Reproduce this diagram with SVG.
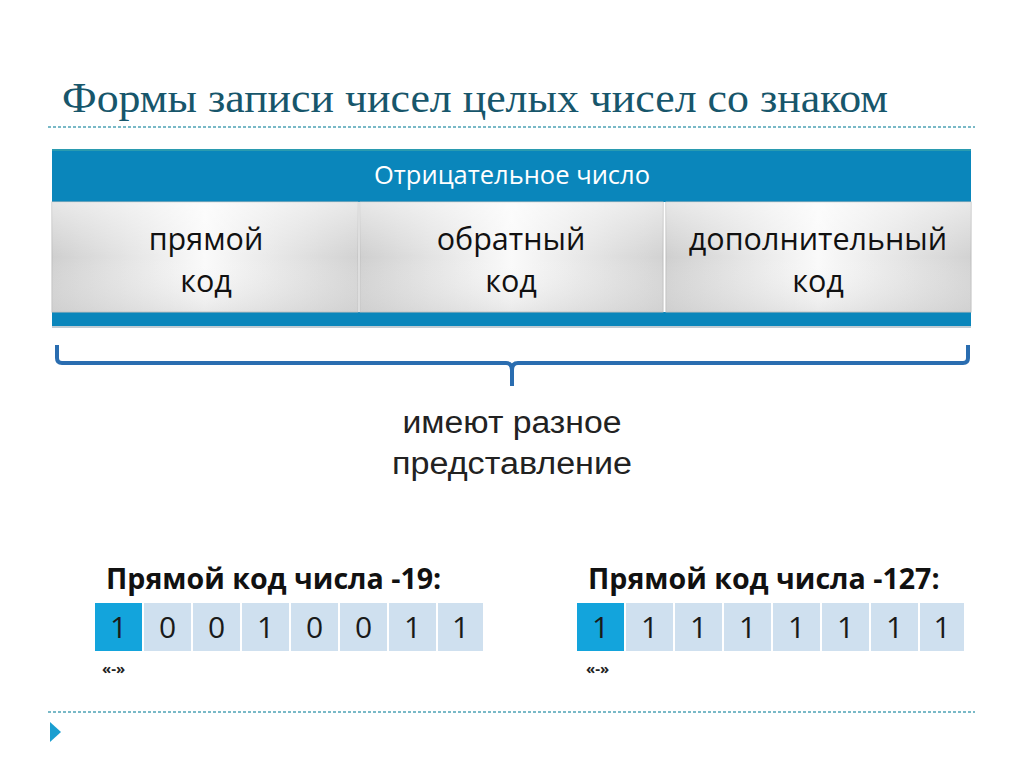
<svg xmlns="http://www.w3.org/2000/svg" width="1024" height="767" viewBox="0 0 1024 767">
<defs>
<linearGradient id="cell" x1="0" y1="0" x2="1" y2="0">
<stop offset="0" stop-color="#cfcfcf"/>
<stop offset="0.5" stop-color="#fafafa"/>
<stop offset="1" stop-color="#d2d2d2"/>
</linearGradient>
<linearGradient id="cellv" x1="0" y1="0" x2="0" y2="1">
<stop offset="0" stop-color="#ffffff" stop-opacity="0.5"/>
<stop offset="0.5" stop-color="#ffffff" stop-opacity="0"/>
<stop offset="1" stop-color="#cfcfcf" stop-opacity="0.4"/>
</linearGradient>
<style>
.dots{stroke:#4ea3b5;stroke-width:1.5;stroke-dasharray:3 2;fill:none}
.box{font-family:"Open Sans","Liberation Sans",sans-serif;font-size:30.5px;fill:#111;text-anchor:middle}
.sub{font-family:"Liberation Sans",sans-serif;font-size:31px;fill:#222;text-anchor:middle}
.hd{font-family:"Open Sans","Liberation Sans",sans-serif;font-size:28.6px;font-weight:bold;fill:#111}
.bit{fill:#cfe0ef}
.sign{fill:#13a4dc}
.dig{font-family:"Open Sans","Liberation Sans",sans-serif;font-size:30px;fill:#1a1a1a;text-anchor:middle}
.q{font-family:"Open Sans","Liberation Sans",sans-serif;font-size:15px;font-weight:bold;fill:#222}
</style>
</defs>
<rect width="1024" height="767" fill="#ffffff"/>
<g id="title">
<text x="62" y="112" font-family="Liberation Serif,serif" font-size="43" fill="#17566b" textLength="826" lengthAdjust="spacingAndGlyphs">Формы записи чисел целых чисел со знаком</text>
<line class="dots" x1="48" y1="127" x2="975" y2="127"/>
</g>
<g id="panel">
<rect x="52" y="150" width="919" height="52" fill="#0a86bb"/>
<rect x="52" y="149" width="919" height="2" fill="#2a9bb0"/>
<text x="512" y="184" font-family="Open Sans,Liberation Sans,sans-serif" font-size="25.5" fill="#ffffff" text-anchor="middle">Отрицательное число</text>
<rect x="52" y="312" width="919" height="14" fill="#0a86bb"/>
<rect x="52" y="326" width="919" height="2" fill="#bfcbd3"/>
</g>
<g id="cell1">
<rect x="52" y="202" width="306" height="110" fill="url(#cell)" stroke="#bdbdbd"/>
<rect x="52" y="202" width="306" height="110" fill="url(#cellv)"/>
<text class="box" x="206" y="250">прямой</text>
<text class="box" x="206" y="292">код</text>
</g>
<g id="cell2">
<rect x="360" y="202" width="303" height="110" fill="url(#cell)" stroke="#bdbdbd"/>
<rect x="360" y="202" width="303" height="110" fill="url(#cellv)"/>
<text class="box" x="511" y="250">обратный</text>
<text class="box" x="511" y="292">код</text>
</g>
<g id="cell3">
<rect x="666" y="202" width="305" height="110" fill="url(#cell)" stroke="#bdbdbd"/>
<rect x="666" y="202" width="305" height="110" fill="url(#cellv)"/>
<text class="box" x="818" y="250">дополнительный</text>
<text class="box" x="818" y="292">код</text>
</g>
<g id="connectors">
<path d="M57,345 V358 Q57,363 62,363 H506 Q512,363 512,370 V386 M512,370 Q512,363 518,363 H963 Q968,363 968,358 V345" fill="none" stroke="#2a6db0" stroke-width="4"/>
</g>
<g id="note">
<text class="sub" x="512" y="433" textLength="219" lengthAdjust="spacingAndGlyphs">имеют разное</text>
<text class="sub" x="512" y="474" textLength="240" lengthAdjust="spacingAndGlyphs">представление</text>
</g>
<g id="code19">
<text class="hd" x="106" y="589">Прямой код числа -19:</text>
<rect class="sign" x="95" y="603" width="47" height="48"/>
<rect class="bit" x="144" y="603" width="47" height="48"/>
<rect class="bit" x="193" y="603" width="47" height="48"/>
<rect class="bit" x="242" y="603" width="47" height="48"/>
<rect class="bit" x="291" y="603" width="47" height="48"/>
<rect class="bit" x="340" y="603" width="47" height="48"/>
<rect class="bit" x="389" y="603" width="47" height="48"/>
<rect class="bit" x="438" y="603" width="45" height="48"/>
<text class="dig" x="118.5" y="638">1</text>
<text class="dig" x="167.5" y="638">0</text>
<text class="dig" x="216.5" y="638">0</text>
<text class="dig" x="265.5" y="638">1</text>
<text class="dig" x="314.5" y="638">0</text>
<text class="dig" x="363.5" y="638">0</text>
<text class="dig" x="412.5" y="638">1</text>
<text class="dig" x="460.5" y="638">1</text>
<text class="q" x="102" y="674">«-»</text>
</g>
<g id="code127">
<text class="hd" x="588" y="589">Прямой код числа -127:</text>
<rect class="sign" x="577" y="603" width="47" height="48"/>
<rect class="bit" x="626" y="603" width="47" height="48"/>
<rect class="bit" x="675" y="603" width="47" height="48"/>
<rect class="bit" x="724" y="603" width="47" height="48"/>
<rect class="bit" x="773" y="603" width="47" height="48"/>
<rect class="bit" x="822" y="603" width="47" height="48"/>
<rect class="bit" x="871" y="603" width="47" height="48"/>
<rect class="bit" x="920" y="603" width="44" height="48"/>
<text class="dig" x="600.5" y="638">1</text>
<text class="dig" x="649.5" y="638">1</text>
<text class="dig" x="698.5" y="638">1</text>
<text class="dig" x="747.5" y="638">1</text>
<text class="dig" x="796.5" y="638">1</text>
<text class="dig" x="845.5" y="638">1</text>
<text class="dig" x="894.5" y="638">1</text>
<text class="dig" x="942" y="638">1</text>
<text class="q" x="586" y="674">«-»</text>
</g>
<g id="footer">
<line class="dots" x1="48" y1="712" x2="975" y2="712"/>
<polygon points="50,722 61,732 50,742" fill="#1a9ed0"/>
</g>
</svg>
